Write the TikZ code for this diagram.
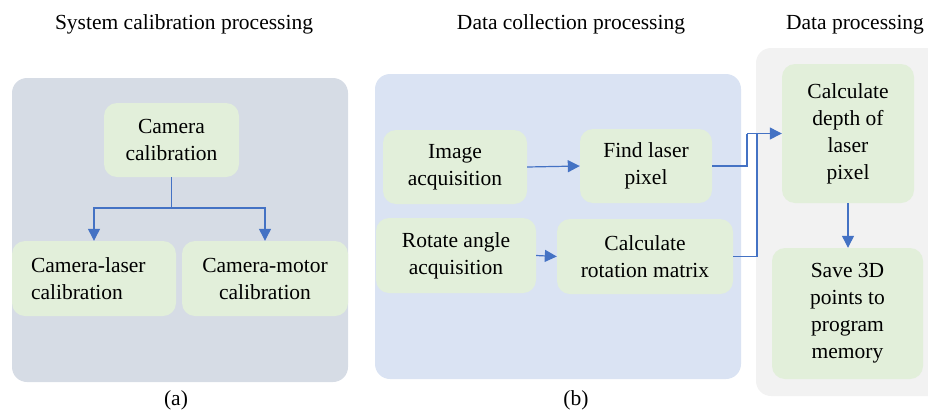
\documentclass[tikz,border=0pt]{standalone}
\usepackage{fontspec}
\setmainfont{Liberation Serif}
\usetikzlibrary{arrows.meta}

\definecolor{panelA}{HTML}{D6DCE5}
\definecolor{panelB}{HTML}{DAE3F3}
\definecolor{panelC}{HTML}{F2F2F2}
\definecolor{boxfill}{HTML}{E2EFDA}
\definecolor{flow}{HTML}{4472C4}

\tikzset{
  panel/.style={fill=#1, draw=none, rounded corners=15pt},
  stepbox/.style={fill=boxfill, draw=none, rounded corners=13pt, align=center,
    inner sep=0pt, font=\fontsize{21.5}{27}\selectfont},
  caption/.style={font=\fontsize{21.5}{26}\selectfont, anchor=base, inner sep=0pt},
  link/.style={draw=flow, line width=1.2pt},
  arr/.style={link, -{Triangle[length=12pt,width=12pt]}},
}

\begin{document}
\begin{tikzpicture}[x=1pt, y=-1pt]
  \useasboundingbox (0,0) rectangle (928,410);

  % background panels
  \fill[panel=panelA] (12,78) rectangle (348,382);
  \fill[panel=panelB] (375,74) rectangle (741,379);
  \fill[panel=panelC] (756,48) rectangle (950,396);

  % panel titles and captions
  \node[caption] (tA) at (184,29) {System calibration processing};
  \node[caption] (tB) at (571,29) {Data collection processing};
  \node[caption] (tC) at (855,29) {Data processing};
  \node[caption] (la) at (176,405) {(a)};
  \node[caption] (lb) at (576,405) {(b)};

  % (a) system calibration
  \node[stepbox, minimum width=135pt, minimum height=74pt] (cam) at (171.5,140)
    {Camera\\calibration};
  \node[stepbox, minimum height=75pt, text width=126pt, inner xsep=19pt, align=left]
    (claser) at (94,278.5) {Camera-laser\\calibration};
  \node[stepbox, minimum width=166pt, minimum height=75pt] (cmotor) at (265,278.5)
    {Camera-motor\\calibration};

  \coordinate (split) at (171.5,208);
  \draw[link] (cam.south) -- (split);
  \draw[arr] (split) -| (claser.north);
  \draw[arr] (split) -| (cmotor.north);

  % (b) data collection
  \node[stepbox, minimum width=144pt, minimum height=74pt] (imgacq) at (455,167)
    {Image\\acquisition};
  \node[stepbox, minimum width=132pt, minimum height=74pt] (findlaser) at (646,166)
    {Find laser\\pixel};
  \node[stepbox, minimum width=160pt, minimum height=75pt] (rotacq) at (456,255.5)
    {Rotate angle\\acquisition};
  \node[stepbox, minimum width=176pt, minimum height=75pt] (calcrot) at (645,256.5)
    {Calculate\\rotation matrix};

  \draw[arr] (imgacq.east) -- (findlaser.west);
  \draw[arr] (rotacq.east) -- (calcrot.west);

  % data processing
  \node[stepbox, minimum width=132pt, minimum height=139pt] (depth) at (848,133.5)
    {Calculate\\depth of\\laser\\pixel};
  \node[stepbox, minimum width=151pt, minimum height=131pt] (save) at (847.5,313.5)
    {Save 3D\\points to\\program\\memory};

  \coordinate (j1) at (747,133.5);
  \coordinate (j2) at (757,133.5);
  \draw[link] (findlaser.east) -| (j1);
  \draw[link] (calcrot.east) -| (j2);
  \draw[arr] (j1) -- (depth.west);
  \draw[arr] (depth.south) -- (depth.south |- save.north);
\end{tikzpicture}
\end{document}
